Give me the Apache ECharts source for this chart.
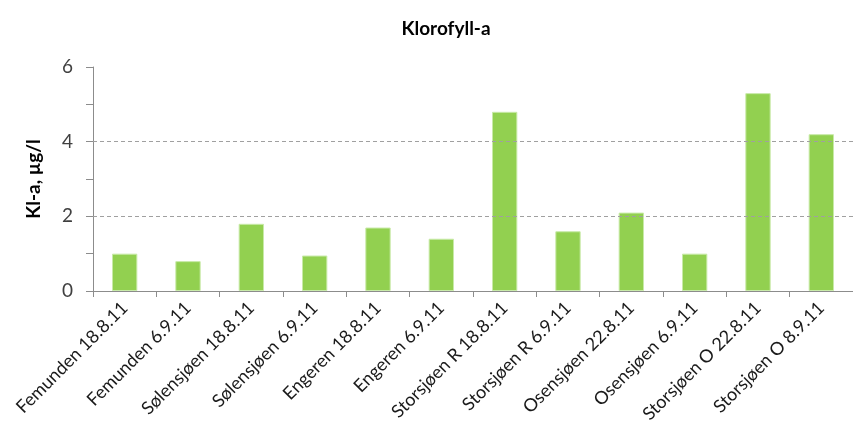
<!DOCTYPE html>
<html>
<head>
<meta charset="utf-8">
<script src="https://cdn.jsdelivr.net/npm/echarts@6/dist/echarts.min.js"></script>
<style>
html, body { margin: 0; padding: 0; background: #fff; }
#chart { width: 853px; height: 432px; }
</style>
</head>
<body>
<div id="chart"></div>
<script>
// kategorier og verdier (Kl-a, µg/l)
var stations = [
  'Femunden 18.8.11', 'Femunden 6.9.11', 'Sølensjøen 18.8.11', 'Sølensjøen 6.9.11',
  'Engeren 18.8.11', 'Engeren 6.9.11', 'Storsjøen R 18.8.11', 'Storsjøen R 6.9.11',
  'Osensjøen 22.8.11', 'Osensjøen 6.9.11', 'Storsjøen O 22.8.11', 'Storsjøen O 8.9.11'
]
var klaValues = [1.0, 0.8, 1.8, 0.95, 1.7, 1.4, 4.8, 1.6, 2.1, 1.0, 5.3, 4.2]
var gridLevels = [2, 4]

var fontFam = 'Lato, "Liberation Sans", sans-serif'
var chart = echarts.init(document.getElementById('chart'))

chart.setOption({
  animation: false,
  title: {
    text: 'Klorofyll-a',
    left: 441,
    top: 14,
    textAlign: 'center',
    textStyle: { fontFamily: fontFam, fontSize: 19, fontWeight: 'bold', color: '#000' }
  },
  grid: {
    left: 93,
    right: -11,
    top: 67,
    bottom: 141
  },
  xAxis: {
    type: 'category',
    data: stations,
    axisLine: { lineStyle: { color: '#8c8c8c', width: 1 } },
    axisTick: { show: true, length: 6, lineStyle: { color: '#8c8c8c' } },
    axisLabel: {
      rotate: 45,
      interval: 0,
      margin: 14,
      fontFamily: fontFam,
      fontSize: 18,
      color: '#1a1a1a'
    }
  },
  yAxis: {
    type: 'value',
    min: 0,
    max: 6,
    interval: 2,
    name: 'Kl-a, µg/l',
    nameLocation: 'middle',
    nameGap: 50,
    nameTextStyle: { fontFamily: fontFam, fontSize: 19, fontWeight: 'bold', color: '#000' },
    axisLine: { show: true, lineStyle: { color: '#8c8c8c' } },
    axisTick: { show: true, length: 7, lineStyle: { color: '#8c8c8c' } },
    minorTick: { show: true, splitNumber: 2, length: 7, lineStyle: { color: '#8c8c8c' } },
    axisLabel: { margin: 20, fontFamily: fontFam, fontSize: 19, color: '#404040' },
    splitLine: { show: false }
  },
  series: [
    {
      name: 'Kl-a',
      type: 'bar',
      data: klaValues,
      barWidth: '40%',
      itemStyle: { color: '#92d050', borderColor: '#c8eaa8', borderWidth: 1 },
      markLine: {
        silent: true,
        symbol: 'none',
        label: { show: false },
        lineStyle: { color: '#a0a0a0', type: [4, 3], width: 1 },
        data: gridLevels.map(function (v) { return { yAxis: v } })
      },
      z: 2
    }
  ]
})
</script>
</body>
</html>
